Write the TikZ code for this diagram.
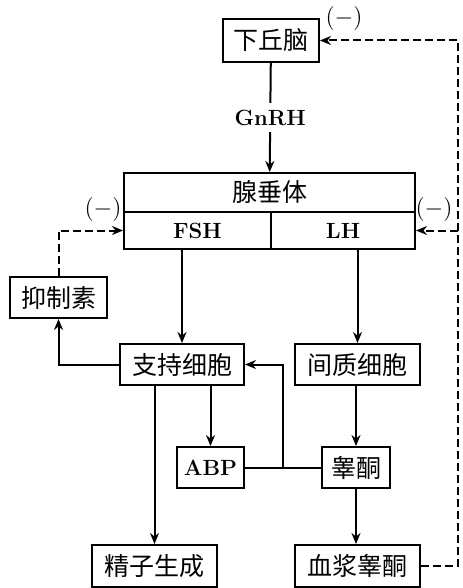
\documentclass[tikz,border=0pt]{standalone}
\usepackage{fontspec}
\newfontfamily\cjk{Noto Sans CJK SC}
\usetikzlibrary{arrows.meta}

\tikzset{
  box/.style={shape=rectangle,draw=black,line width=1pt,inner sep=0pt,font=\cjk\fontsize{12.5}{14}\selectfont},
  lbox/.style={box,font=\fontsize{11}{13}\selectfont\bfseries},
  arr/.style={line width=1pt,-{Stealth[length=5.5pt,width=4.5pt]}},
  darr/.style={arr,dash pattern=on 4pt off 2pt},
  minus/.style={font=\fontsize{13}{15}\selectfont}
}

\begin{document}
\begin{tikzpicture}[x=0.5pt,y=-0.5pt]
  \useasboundingbox (0,0) rectangle (462,588);

  \node[box,minimum width=48pt,minimum height=21.5pt] (xqn) at (271,40.5) {下丘脑};
  \node[box,minimum width=145.5pt,minimum height=19.5pt] (cxt) at (269.5,192.5) {腺垂体};
  \node[lbox,minimum width=73.5pt,minimum height=18.5pt] (fsh) at (197.5,230.5) {FSH};
  \node[lbox,minimum width=72pt,minimum height=18.5pt] (lh) at (343,230.5) {LH};
  \node[box,minimum width=48.5pt,minimum height=20.5pt] (yzs) at (58.5,297.5) {抑制素};
  \node[box,minimum width=62pt,minimum height=20.5pt] (zc) at (182,364.5) {支持细胞};
  \node[box,minimum width=62.5pt,minimum height=20.5pt] (jz) at (357.5,364.5) {间质细胞};
  \node[lbox,minimum width=33.5pt,minimum height=20.5pt] (abp) at (210.5,467.5) {ABP};
  \node[box,minimum width=34pt,minimum height=20.5pt] (gt) at (356,467.5) {睾酮};
  \node[box,minimum width=62.5pt,minimum height=21pt] (jzsc) at (154.5,566) {精子生成};
  \node[box,minimum width=62.5pt,minimum height=21pt] (xj) at (357.5,566) {血浆睾酮};

  \node[minus] (m1) at (344,19) {$(-)$};
  \node[minus] (m2) at (434,209) {$(-)$};
  \node[minus] (m3) at (103,209) {$(-)$};

  \coordinate (j) at (283,467.5);
  \coordinate (rb) at (458,566);

  \draw[arr] (xqn) -- node[fill=white,font=\fontsize{11}{13}\selectfont\bfseries] (gnrh) {GnRH} (cxt);
  \draw[arr] (zc.north |- fsh.south) -- (zc.north);
  \draw[arr] (jz.north |- lh.south) -- (jz.north);
  \draw[arr] (zc.west) -| (yzs.south);
  \draw[darr] (yzs.north) |- (fsh.west);
  \draw[arr] (abp.north |- zc.south) -- (abp.north);
  \draw[arr] (jzsc.north |- zc.south) -- (jzsc.north);
  \draw[arr] (gt.north |- jz.south) -- (gt.north);
  \draw[arr] (gt.south) -- (gt.south |- xj.north);
  \draw[line width=1pt] (abp.east) -- (gt.west);
  \draw[arr] (j) |- (zc.east);
  \draw[darr] (xj.east) -- (rb) |- (xqn.east);
  \draw[darr] (rb |- lh.east) -- (lh.east);

\end{tikzpicture}
\end{document}
